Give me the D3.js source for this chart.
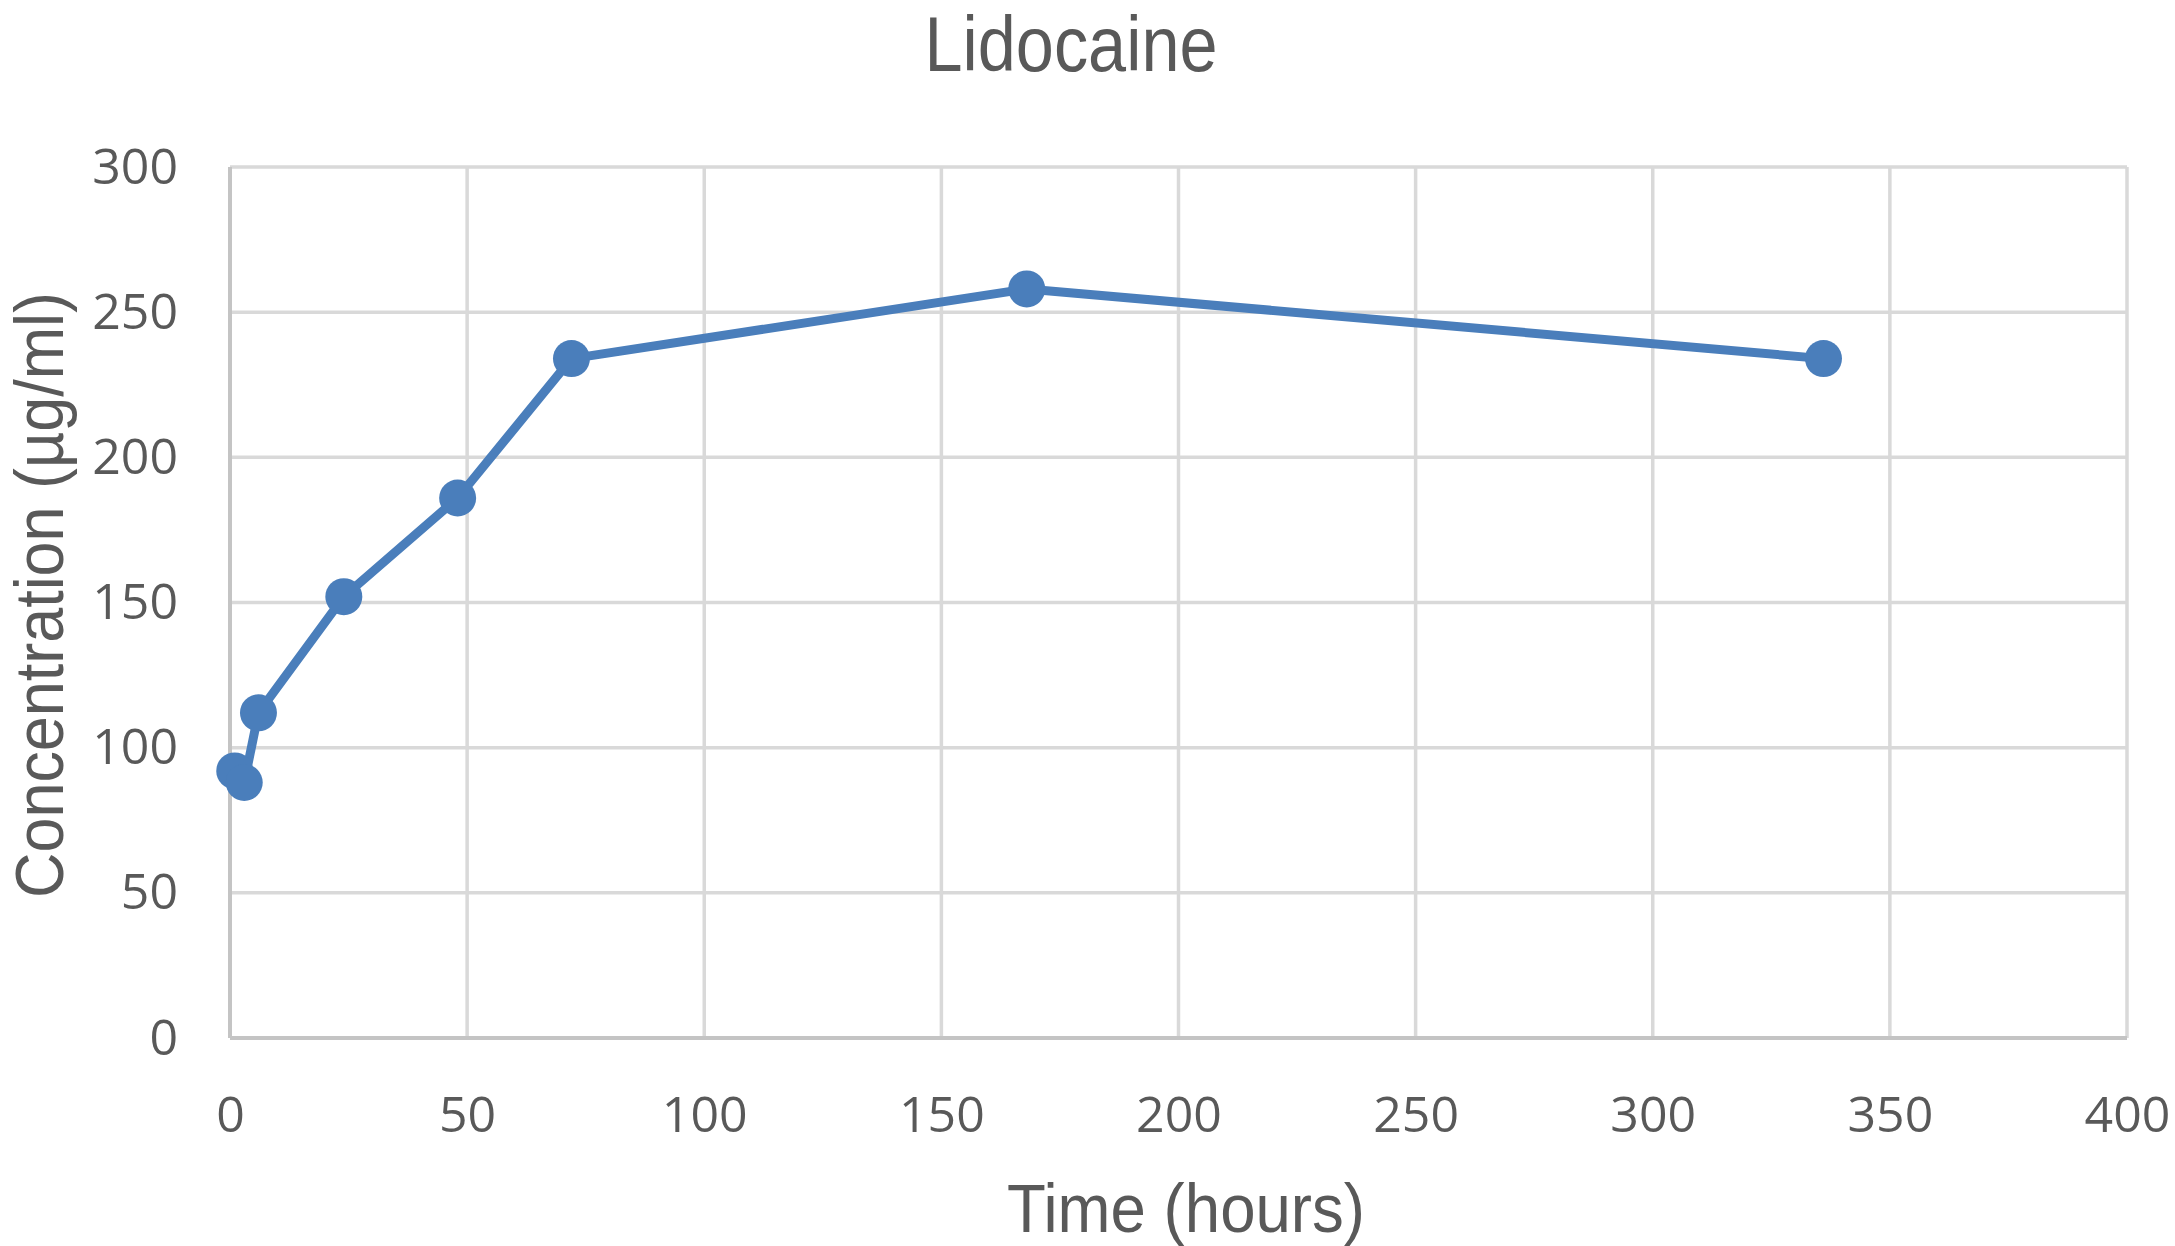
<!DOCTYPE html>
<html>
<head>
<meta charset="utf-8">
<script src="https://cdn.jsdelivr.net/npm/d3@7"></script>
<style>
  body { margin: 0; background: #fff; }
</style>
</head>
<body>
<svg id="chart"></svg>
<script>
// values
const timeHours = [1, 3, 6, 24, 48, 72, 168, 336];
const concentration = [92, 88, 112, 152, 186, 234, 258, 234];
const xTicks = [0, 50, 100, 150, 200, 250, 300, 350, 400];
const yTicks = [0, 50, 100, 150, 200, 250, 300];

const chartTitle = "Lidocaine";
const xTitle = "Time (hours)";
const yTitle = "Concentration (\u00b5g/ml)";

const width = 2175, height = 1246;
const margin = { top: 167, right: 48, bottom: 208, left: 230 };
const innerW = width - margin.left - margin.right;
const innerH = height - margin.top - margin.bottom;

const textColor = "#595959";
const lineColor = "#4a7ebb";

const svg = d3.select("#chart")
    .attr("width", width)
    .attr("height", height);

const g = svg.append("g")
    .attr("transform", `translate(${margin.left},${margin.top})`);

const x = d3.scaleLinear().domain([0, 400]).range([0, innerW]);
const y = d3.scaleLinear().domain([0, 300]).range([innerH, 0]);

// gridlines
g.append("g").selectAll("line")
    .data(yTicks.filter(d => d > 0))
    .join("line")
    .attr("x1", 0).attr("x2", innerW)
    .attr("y1", d => y(d)).attr("y2", d => y(d))
    .attr("stroke", "#d9d9d9")
    .attr("stroke-width", 3.5);

g.append("g").selectAll("line")
    .data(xTicks.filter(d => d > 0))
    .join("line")
    .attr("x1", d => x(d)).attr("x2", d => x(d))
    .attr("y1", 0).attr("y2", innerH)
    .attr("stroke", "#d9d9d9")
    .attr("stroke-width", 3.5);

// axis lines (a bit darker)
g.append("line")
    .attr("x1", 0).attr("x2", 0)
    .attr("y1", 0).attr("y2", innerH)
    .attr("stroke", "#c4c4c4").attr("stroke-width", 4);
g.append("line")
    .attr("x1", 0).attr("x2", innerW)
    .attr("y1", innerH).attr("y2", innerH)
    .attr("stroke", "#c4c4c4").attr("stroke-width", 4);

// y axis labels
const yAxis = g.append("g")
    .call(d3.axisLeft(y).tickValues(yTicks).tickSize(0).tickPadding(52));
yAxis.select(".domain").remove();
yAxis.selectAll("text")
    .attr("font-family", "'Open Sans', sans-serif")
    .attr("font-size", 50)
    .attr("fill", textColor)
    .attr("dy", "0.32em");

// x axis labels
const xAxis = g.append("g")
    .attr("transform", `translate(0,${innerH})`)
    .call(d3.axisBottom(x).tickValues(xTicks).tickSize(0));
xAxis.select(".domain").remove();
xAxis.selectAll("text")
    .attr("font-family", "'Open Sans', sans-serif")
    .attr("font-size", 50)
    .attr("fill", textColor)
    .attr("y", 94)
    .attr("dy", 0);

// series line
const line = d3.line()
    .x((d, i) => x(timeHours[i]))
    .y(d => y(d));

g.append("path")
    .datum(concentration)
    .attr("fill", "none")
    .attr("stroke", lineColor)
    .attr("stroke-width", 9)
    .attr("stroke-linejoin", "round")
    .attr("d", line);

g.append("g").selectAll("circle")
    .data(concentration)
    .join("circle")
    .attr("cx", (d, i) => x(timeHours[i]))
    .attr("cy", d => y(d))
    .attr("r", 18.5)
    .attr("fill", lineColor);

// titles
svg.append("text")
    .attr("x", 1071)
    .attr("y", 71)
    .attr("text-anchor", "middle")
    .attr("font-family", "'Liberation Sans', Arial, sans-serif")
    .attr("font-size", 78)
    .attr("fill", textColor)
    .attr("textLength", 293)
    .attr("lengthAdjust", "spacingAndGlyphs")
    .text(chartTitle);

svg.append("text")
    .attr("x", 1186)
    .attr("y", 1232)
    .attr("text-anchor", "middle")
    .attr("font-family", "'Liberation Sans', Arial, sans-serif")
    .attr("font-size", 68)
    .attr("fill", textColor)
    .attr("textLength", 358)
    .attr("lengthAdjust", "spacingAndGlyphs")
    .text(xTitle);

svg.append("text")
    .attr("transform", "translate(63,595) rotate(-90)")
    .attr("text-anchor", "middle")
    .attr("font-family", "'Liberation Sans', Arial, sans-serif")
    .attr("font-size", 68)
    .attr("fill", textColor)
    .attr("textLength", 606)
    .attr("lengthAdjust", "spacingAndGlyphs")
    .text(yTitle);
</script>
</body>
</html>
